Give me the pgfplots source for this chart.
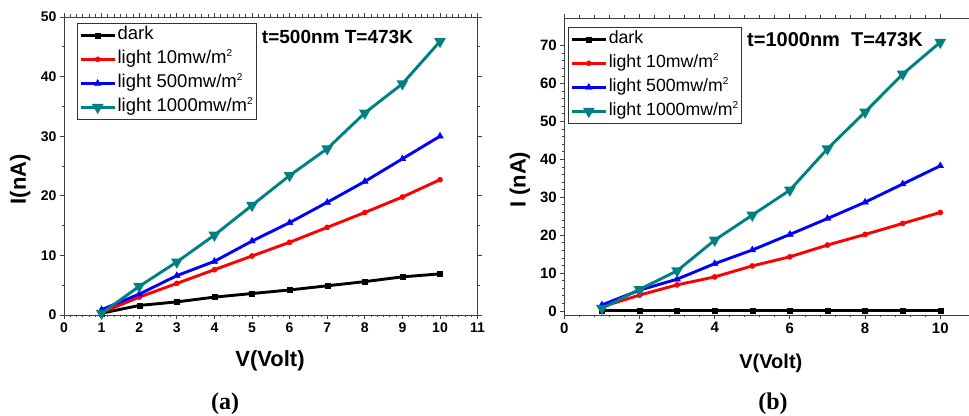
\documentclass[border=0pt]{standalone}
\usepackage{fontspec}
\setmainfont{Liberation Sans}
\newfontfamily\capfont{Liberation Serif}
\usepackage{pgfplots}
\pgfplotsset{compat=1.18}
\definecolor{tealc}{RGB}{0,128,128}
\newcommand{\sq}{\raisebox{0.8ex}{\fontsize{10}{10}\selectfont 2}}

\pgfplotsset{
  ivstyle/.style={
    scale only axis,
    anchor=south west,
    axis line style={line width=0.8pt, black!75},
    tick style={line width=0.8pt, black!75},
    tick align=outside,
    major tick length=4pt, minor tick length=2.5pt,
    xtick pos=both, ytick pos=both,
    /pgf/number format/assume math mode=true,
    label style={font=\fontsize{22}{22}\selectfont\bfseries},
    legend cell align=left,
    legend image code/.code={\draw[mark repeat=2,mark phase=2,#1] plot coordinates {(0pt,0pt) (17pt,0pt) (34pt,0pt)};},
    every axis plot/.append style={line width=2.9pt, mark options={solid, line width=0.4pt}},
    legend style={draw=black!80, line width=0.8pt, anchor=north west,
      inner xsep=2pt, inner ysep=1.5pt,
      nodes={inner sep=1.5pt, text height=13.5pt, text depth=4.5pt},
      row sep=3pt},
  },
}

\begin{document}
\begin{tikzpicture}
% (a) t = 500 nm
\begin{axis}[ivstyle,
  at={(64pt,100pt)}, width=413.6pt, height=298pt,
  xmin=0, xmax=11, ymin=0, ymax=50,
  xtick={0,1,...,11}, ytick={0,10,...,50},
  minor x tick num=5, minor y tick num=1,
  ticklabel style={font=\fontsize{14}{14}\selectfont\bfseries},
  xlabel={V(Volt)}, ylabel={I(nA)},
  xlabel style={at={(axis description cs:0.498,-0.154)}, anchor=center},
  ylabel style={at={(axis description cs:-0.106,0.456)}, anchor=center},
  legend style={at={(axis description cs:0.031,0.98)}, font=\fontsize{18.5}{18.5}\selectfont},
]
\addplot[black, mark=square*, mark size=2.5pt] coordinates {(1,0.3)(2,1.6)(3,2.2)(4,3.0)(5,3.6)(6,4.2)(7,4.9)(8,5.6)(9,6.4)(10,6.9)};
\addlegendentry{dark}
\addplot[red, mark=*, mark size=2.6pt] coordinates {(1,0.4)(2,3.0)(3,5.3)(4,7.6)(5,9.9)(6,12.2)(7,14.7)(8,17.2)(9,19.8)(10,22.7)};
\addlegendentry{light 10mw/m\sq}
\addplot[blue, mark=triangle*, mark size=3.9pt] coordinates {(1,0.9)(2,3.5)(3,6.6)(4,9.0)(5,12.4)(6,15.5)(7,18.9)(8,22.4)(9,26.2)(10,30.0)};
\addlegendentry{light 500mw/m\sq}
\addplot[tealc, mark=triangle*, mark size=3.9pt, mark options={rotate=180}] coordinates {(1,0.3)(2,4.8)(3,8.9)(4,13.4)(5,18.4)(6,23.4)(7,27.9)(8,33.9)(9,38.8)(10,45.9)};
\addlegendentry{light 1000mw/m\sq}
\end{axis}

% (b) t = 1000 nm
\begin{axis}[ivstyle,
  at={(564.3pt,100pt)}, width=409.8pt, height=297pt,
  xmin=0, xmax=10.9, ymin=-1.05, ymax=77.3,
  xtick={0,2,...,10}, ytick={0,10,...,70},
  minor x tick num=4, minor y tick num=4,
  ticklabel style={font=\fontsize{15}{15}\selectfont\bfseries},
  xlabel={V(Volt)}, ylabel={I (nA)},
  xlabel style={at={(axis description cs:0.504,-0.162)}, anchor=center, font=\fontsize{20}{20}\selectfont\bfseries},
  ylabel style={at={(axis description cs:-0.108,0.455)}, anchor=center},
  legend style={at={(axis description cs:0.009,0.97)}, font=\fontsize{17.7}{17.7}\selectfont},
]
\addplot[black, mark=square*, mark size=2.5pt] coordinates {(1,0.05)(2,0.05)(3,0.05)(4,0.05)(5,0.05)(6,0.05)(7,0.05)(8,0.05)(9,0.05)(10,0.05)};
\addlegendentry{dark}
\addplot[red, mark=*, mark size=2.6pt] coordinates {(1,1.1)(2,4.2)(3,6.9)(4,9.0)(5,11.9)(6,14.3)(7,17.4)(8,20.2)(9,23.1)(10,26.0)};
\addlegendentry{light 10mw/m\sq}
\addplot[blue, mark=triangle*, mark size=3.9pt] coordinates {(1,1.6)(2,5.5)(3,8.4)(4,12.5)(5,16.1)(6,20.2)(7,24.4)(8,28.7)(9,33.5)(10,38.3)};
\addlegendentry{light 500mw/m\sq}
\addplot[tealc, mark=triangle*, mark size=3.9pt, mark options={rotate=180}] coordinates {(1,0.7)(2,5.7)(3,10.6)(4,18.7)(5,25.3)(6,31.9)(7,42.8)(8,52.5)(9,62.5)(10,70.9)};
\addlegendentry{light 1000mw/m\sq}
\end{axis}

\node[font=\fontsize{19}{19}\selectfont\bfseries] at (337.5pt,378pt) {t=500nm T=473K};
\node[font=\fontsize{20}{20}\selectfont\bfseries] at (835pt,375pt) {t=1000nm\ \ T=473K};
\node[font=\capfont\fontsize{24}{24}\selectfont\bfseries] at (225pt,11pt) {(a)};
\node[font=\capfont\fontsize{24}{24}\selectfont\bfseries] at (773pt,11pt) {(b)};

\pgfresetboundingbox
\path[use as bounding box] (0pt,0pt) rectangle (969pt,415pt);
\end{tikzpicture}
\end{document}
